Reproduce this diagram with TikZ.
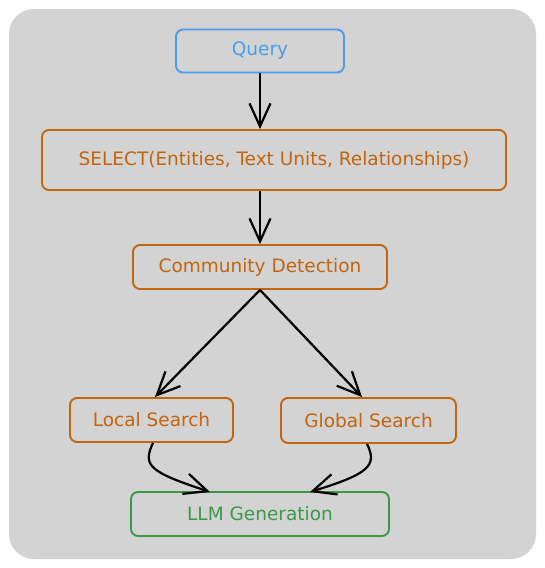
\documentclass[tikz,border=0pt]{standalone}
\usepackage{fontspec}
\setmainfont{DejaVu Sans}
\usepackage{xcolor}
\usetikzlibrary{arrows.meta}
\definecolor{qblue}{HTML}{4A9EEA}
\definecolor{sorange}{HTML}{C2650E}
\definecolor{lgreen}{HTML}{3A9A4A}
\definecolor{bggray}{HTML}{D3D3D3}

\begin{document}
\begin{tikzpicture}[x=1pt,y=-1pt,
                    box/.style={draw,rounded corners=7pt,line width=1.9pt,font=\fontsize{18.5}{20}\selectfont},
                    qbox/.style={box,draw=qblue,text=qblue},
                    obox/.style={box,draw=sorange,text=sorange},
                    gbox/.style={box,draw=lgreen,text=lgreen},
                    flow/.style={line width=2.2pt,-{Straight Barb[length=23pt,width=21pt,line width=2.2pt]}}]
                    \useasboundingbox (0,0) rectangle (544,568);
                    \fill[bggray,rounded corners=25pt] (9,9) rectangle (536,559);
                    \node[qbox,minimum width=168pt,minimum height=43pt] (query) at (260,51) {Query};
                    \node[obox,minimum width=464pt,minimum height=60pt] (select) at (274,160) {SELECT(Entities, Text Units, Relationships)};
                    \node[obox,minimum width=254pt,minimum height=44pt] (community) at (260,267) {Community Detection};
                    \node[obox,minimum width=163pt,minimum height=44pt] (local) at (151.5,420) {Local Search};
                    \node[obox,minimum width=175pt,minimum height=45pt] (global) at (368.5,420.5) {Global Search};
                    \node[gbox,minimum width=258pt,minimum height=44pt] (llm) at (260,514) {LLM Generation};
                    \coordinate (llmleft) at (210,492);
                    \coordinate (llmright) at (310,492);
                    \draw[flow] (query.south -| 260,0) -- (select.north -| 260,0);
                    \draw[flow] (select.south -| 260,0) -- (community.north);
                    \draw[flow] (community.south) -- (local.north -| 155,0);
                    \draw[flow] (community.south) -- (global.north -| 362,0);
                    \draw[flow] (local.south -| 153,0) .. controls (142,466) and (150,472) .. (llmleft);
                    \draw[flow] (global.south -| 367,0) .. controls (378,466) and (368,474) .. (llmright);
                \end{tikzpicture}
\end{document}
